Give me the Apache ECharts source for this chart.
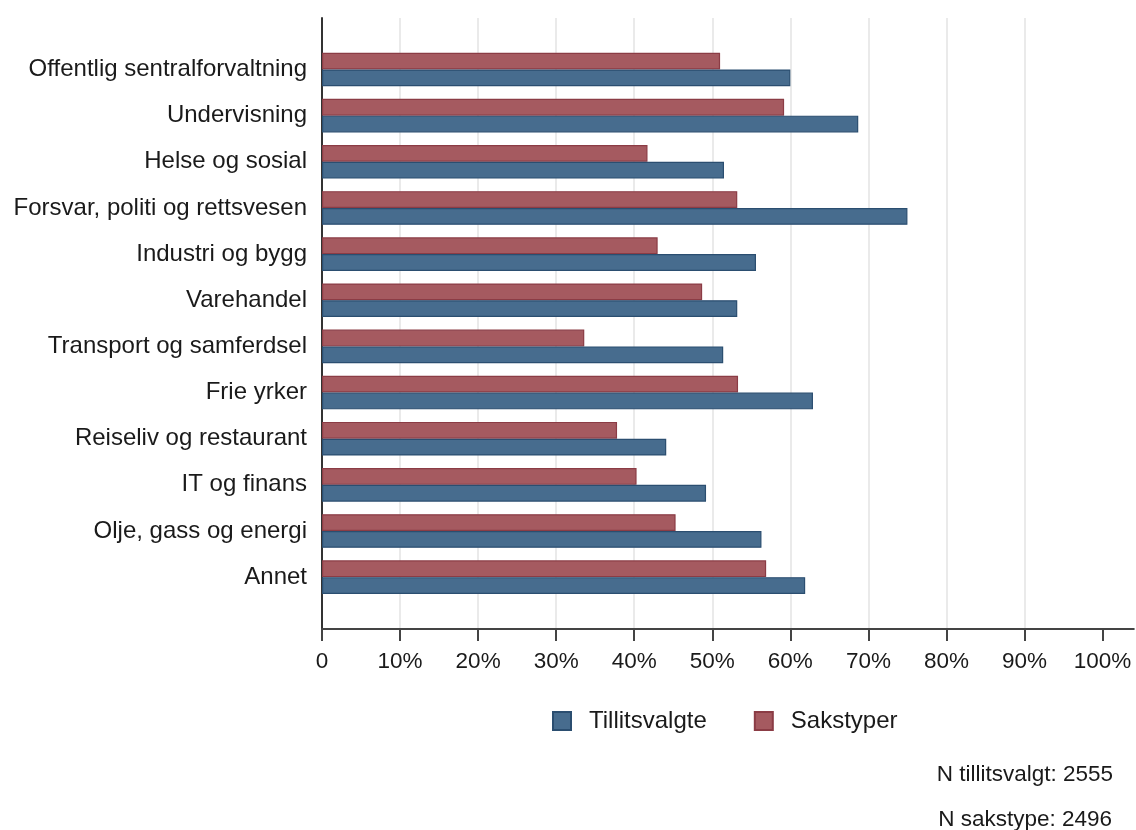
<!DOCTYPE html>
<html>
<head>
<meta charset="utf-8">
<script src="https://cdn.jsdelivr.net/npm/echarts@6/dist/echarts.min.js"></script>
<style>
html,body{margin:0;padding:0;background:#fff;}
#chart{width:1136px;height:830px;}
</style>
</head>
<body>
<div id="chart"></div>
<script>
const categories = [
  'Offentlig sentralforvaltning',
  'Undervisning',
  'Helse og sosial',
  'Forsvar, politi og rettsvesen',
  'Industri og bygg',
  'Varehandel',
  'Transport og samferdsel',
  'Frie yrker',
  'Reiseliv og restaurant',
  'IT og finans',
  'Olje, gass og energi',
  'Annet'
];
const tillitsvalgte = [60.0, 68.7, 51.5, 75.0, 55.6, 53.2, 51.4, 62.9, 44.1, 49.2, 56.3, 61.9];
const sakstyper = [51.0, 59.2, 41.7, 53.2, 43.0, 48.7, 33.6, 53.3, 37.8, 40.3, 45.3, 56.9];
const tickValues = [0, 10, 20, 30, 40, 50, 60, 70, 80, 90, 100];
const nTillitsvalgt = 'N tillitsvalgt: 2555';
const nSakstype = 'N sakstype: 2496';

const FONT = '"Liberation Sans", Arial, sans-serif';
const TXT = '#1a1a1a';
const chart = echarts.init(document.getElementById('chart'), null, {renderer: 'canvas'});
const GL = 322, GW = 811.8, XMAX = 104;
chart.setOption({
  animation: false,
  textStyle: {fontFamily: FONT},
  grid: [
    {left: GL, width: GW, top: 18, height: 611, containLabel: false},
    {left: GL, width: GW, top: 46.4, height: 553.8, containLabel: false}
  ],
  xAxis: [
    {
      gridIndex: 0, type: 'value', min: 0, max: XMAX, interval: 10,
      axisLine: {show: true, lineStyle: {color: '#444', width: 2}},
      axisTick: {show: true, length: 12, customValues: tickValues, lineStyle: {color: '#444', width: 2}},
      axisLabel: {
        customValues: tickValues, margin: 21, fontSize: 22.5, color: TXT, fontFamily: FONT,
        formatter: v => v === 0 ? '0' : v + '%'
      },
      splitLine: {show: true, showMinLine: false, showMaxLine: false, lineStyle: {color: '#e3e3e3', width: 1.5}}
    },
    {
      gridIndex: 1, type: 'value', min: 0, max: XMAX, show: false,
      splitLine: {show: false}
    }
  ],
  yAxis: [
    {
      gridIndex: 0, type: 'value', min: 0, max: 1,
      axisLine: {show: true, lineStyle: {color: '#333', width: 2}},
      axisTick: {show: false}, axisLabel: {show: false}, splitLine: {show: false}
    },
    {
      gridIndex: 1, type: 'category', data: categories, inverse: true,
      axisLine: {show: false}, axisTick: {show: false},
      axisLabel: {margin: 15, fontSize: 24, color: TXT, fontFamily: FONT, padding: [4, 0, 0, 0]}
    }
  ],
  legend: {
    left: 547, top: 704, itemWidth: 18, itemHeight: 18, itemGap: 47, icon: 'rect',
    data: ['Tillitsvalgte', 'Sakstyper'],
    textStyle: {fontSize: 24, color: TXT, fontFamily: FONT, padding: [0, 0, 0, 13]}
  },
  title: [
    {text: nTillitsvalgt, right: 18, top: 758, textStyle: {fontSize: 22.5, fontWeight: 'normal', color: TXT, fontFamily: FONT}},
    {text: nSakstype, right: 19, top: 803, textStyle: {fontSize: 22.5, fontWeight: 'normal', color: TXT, fontFamily: FONT}}
  ],
  series: [
    {
      name: 'Sakstyper', type: 'bar', xAxisIndex: 1, yAxisIndex: 1,
      data: sakstyper, barWidth: 16.8, barGap: '0%',
      itemStyle: {color: '#a55a60', borderColor: '#8b3c45', borderWidth: 1.2}
    },
    {
      name: 'Tillitsvalgte', type: 'bar', xAxisIndex: 1, yAxisIndex: 1,
      data: tillitsvalgte, barWidth: 16.8, barGap: '0%',
      itemStyle: {color: '#476c8e', borderColor: '#2b4e70', borderWidth: 1.2}
    }
  ]
});
</script>
</body>
</html>
